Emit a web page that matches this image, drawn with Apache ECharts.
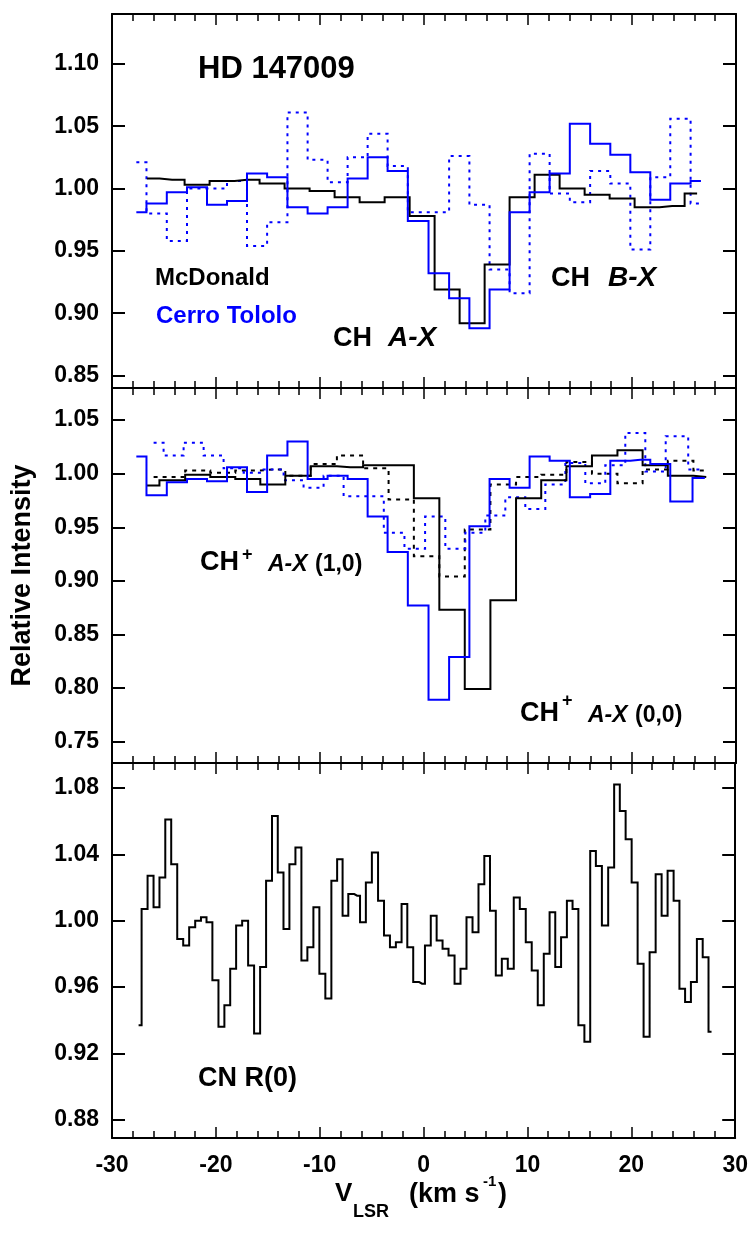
<!DOCTYPE html>
<html><head><meta charset="utf-8">
<script src="https://cdn.jsdelivr.net/npm/echarts@6/dist/echarts.min.js"></script>
<style>html,body{margin:0;padding:0;background:#fff}#c{width:751px;height:1233px}</style>
</head><body><div id="c"></div>
<script>
// ---------- Panel 1: CH ----------
const xChMcD = [-26.63, -24.22, -21.82, -19.41, -17.01, -14.61, -12.20, -9.80, -7.39, -4.99, -2.58, -0.18, 2.22, 4.63, 7.03, 9.43, 11.84, 14.24, 16.65, 19.05, 21.45, 23.86, 26.26];
const yChAXMcD = [1.008, 1.007, 1.003, 1.006, 1.007, 1.004, 1.000, 0.998, 0.993, 0.989, 0.993, 0.978, 0.919, 0.892, 0.939, 0.993, 1.011, 1.000, 0.995, 0.992, 0.985, 0.986, 0.996];
const xChCtio = [-27.66, -25.71, -23.75, -21.83, -19.90, -17.98, -16.06, -14.11, -12.15, -10.23, -8.31, -6.38, -4.46, -2.54, -0.57, 1.44, 3.39, 5.34, 7.27, 9.19, 11.12, 13.04, 15.00, 16.95, 18.88, 20.80, 22.72, 24.64, 26.63];
const yChAXCtio = [0.981, 0.988, 0.997, 1.001, 0.987, 0.990, 1.012, 1.009, 0.985, 0.980, 0.985, 1.008, 1.025, 1.014, 0.974, 0.932, 0.912, 0.888, 0.919, 0.981, 0.997, 1.012, 1.052, 1.036, 1.027, 1.013, 0.991, 1.004, 1.006];
const yChBXCtio = [1.021, 0.980, 0.958, 1.000, 1.000, 1.006, 0.954, 0.973, 1.061, 1.023, 1.005, 1.025, 1.044, 1.018, 0.981, 0.981, 1.026, 0.987, 0.935, 0.916, 1.028, 0.996, 0.989, 1.014, 1.004, 0.951, 1.009, 1.056, 0.988];

// ---------- Panel 2: CH+ ----------
const xChpMcD = [-26.70, -24.18, -21.75, -19.35, -16.94, -14.54, -12.13, -9.65, -7.10, -4.61, -2.20, 0.25, 2.70, 5.14, 7.63, 10.07, 12.47, 14.92, 17.38, 19.82, 22.22, 24.67, 27.14];
const yChp00McD = [0.989, 0.994, 0.999, 0.997, 0.995, 0.990, 0.998, 1.007, 1.006, 1.008, 1.008, 0.977, 0.873, 0.799, 0.882, 0.977, 0.994, 1.007, 1.017, 1.022, 1.008, 0.998, 0.997];
const xChp10McD = [-26.00, -24.18, -21.75, -19.35, -16.94, -14.54, -12.13, -9.65, -7.10, -4.61, -2.20, 0.25, 2.70, 5.14, 7.63, 10.07, 12.47, 14.92, 17.38, 19.82, 22.22, 24.67, 27.14];
const yChp10McD = [0.997, 0.997, 1.003, 1.001, 1.003, 1.004, 0.998, 1.009, 1.017, 1.005, 0.976, 0.923, 0.904, 0.948, 0.990, 0.997, 0.999, 1.011, 1.000, 0.991, 1.004, 1.012, 1.003];
const xChp00Ctio = [-27.66, -25.71, -23.75, -21.83, -19.90, -17.98, -16.06, -14.11, -12.15, -10.23, -8.31, -6.38, -4.46, -2.54, -0.57, 1.44, 3.39, 5.34, 7.27, 9.19, 11.12, 13.04, 15.00, 16.95, 18.88, 20.80, 22.72, 24.64, 27.00];
const yChp00Ctio = [1.016, 0.980, 0.992, 0.995, 0.993, 1.006, 0.983, 1.017, 1.030, 0.995, 0.998, 0.995, 0.960, 0.927, 0.877, 0.789, 0.829, 0.951, 0.995, 0.987, 1.016, 1.012, 0.978, 0.981, 1.012, 1.013, 1.009, 0.974, 0.996];
const xChp10Ctio = [-26.00, -24.08, -22.15, -20.23, -18.31, -16.38, -14.46, -12.54, -10.62, -8.69, -6.77, -4.85, -2.88, -0.88, 1.09, 3.01, 4.93, 6.86, 8.78, 10.70, 12.63, 14.55, 16.47, 18.39, 20.32, 22.24, 24.24, 26.57];
const yChp10Ctio = [1.029, 1.017, 1.029, 1.017, 1.005, 1.001, 1.004, 0.994, 0.987, 0.998, 0.979, 0.979, 0.945, 0.930, 0.960, 0.930, 0.945, 0.961, 0.978, 0.967, 0.990, 1.010, 0.991, 1.008, 1.038, 1.002, 1.035, 1.004];

// ---------- Panel 3: CN R(0) ----------
const xCN = [-27.44, -26.86, -26.29, -25.71, -25.15, -24.59, -24.01, -23.43, -22.86, -22.28, -21.70, -21.17, -20.63, -20.04, -19.46, -18.90, -18.34, -17.76, -17.18, -16.61, -16.03, -15.45, -14.88, -14.31, -13.77, -13.21, -12.63, -12.05, -11.48, -10.90, -10.32, -9.75, -9.17, -8.59, -8.06, -7.54, -6.96, -6.40, -5.84, -5.28, -4.68, -4.09, -3.53, -2.95, -2.39, -1.85, -1.29, -0.71, -0.15, 0.41, 0.97, 1.54, 2.11, 2.69, 3.27, 3.84, 4.42, 5.00, 5.57, 6.12, 6.66, 7.24, 7.82, 8.39, 8.97, 9.55, 10.12, 10.70, 11.28, 11.86, 12.40, 12.95, 13.52, 14.07, 14.61, 15.19, 15.77, 16.31, 16.86, 17.47, 18.07, 18.62, 19.16, 19.74, 20.32, 20.89, 21.47, 22.05, 22.63, 23.20, 23.78, 24.36, 24.90, 25.45, 26.02, 26.60, 27.14, 27.72];
const yCN = [0.937, 1.007, 1.027, 1.008, 1.026, 1.061, 1.034, 0.989, 0.985, 0.996,
  1.000, 1.002, 0.999, 0.964, 0.936, 0.949, 0.971, 0.997, 1.000, 0.973,
  0.932, 0.972, 1.024, 1.063, 1.029, 0.995, 1.034, 1.044, 0.976, 0.984,
  1.008, 0.968, 0.953, 1.024, 1.037, 1.003, 1.016, 1.015, 0.999, 1.023,
  1.041, 1.012, 0.991, 0.984, 0.987, 1.010, 0.984, 0.963, 0.962, 0.985,
  1.003, 0.988, 0.983, 0.979, 0.962, 0.971, 1.002, 0.993, 1.022, 1.039,
  1.006, 0.967, 0.977, 0.971, 1.014, 1.007, 0.987, 0.970, 0.949, 0.980,
  1.005, 0.972, 0.990, 1.012, 1.007, 0.937, 0.927, 1.042, 1.033, 0.997,
  1.032, 1.082, 1.066, 1.049, 1.023, 0.974, 0.930, 0.981, 1.028, 1.003,
  1.030, 1.012, 0.959, 0.951, 0.963, 0.989, 0.978, 0.933];

// ---------- axes ----------
const xRange = [-30, 30];
const xMajor = 10;
const yRanges = [[0.84, 1.14], [0.73, 1.08], [0.869, 1.095]];
const yTicks = [
  [0.85, 0.90, 0.95, 1.00, 1.05, 1.10],
  [0.75, 0.80, 0.85, 0.90, 0.95, 1.00, 1.05],
  [0.88, 0.92, 0.96, 1.00, 1.04, 1.08]
];

const FONT = '"Liberation Sans", Arial, Helvetica, sans-serif';
const BLUE = '#0000ff';

const grids = [
  { left: 112, top: 14, width: 624, height: 374 },
  { left: 112, top: 388, width: 624, height: 375 },
  { left: 112, top: 763, width: 624, height: 375 }
];

const xAxes = [], yAxes = [];
grids.forEach((g, gi) => {
  ['bottom', 'top'].forEach(pos => {
    xAxes.push({
      type: 'value', gridIndex: gi, position: pos, min: xRange[0], max: xRange[1], interval: xMajor,
      axisLine: { show: true, onZero: false, lineStyle: { color: '#000', width: 2 } },
      axisTick: { show: true, inside: true, length: 11, lineStyle: { color: '#000', width: 1.5 } },
      minorTick: { show: true, splitNumber: 5, length: 7, lineStyle: { color: '#000', width: 1.5 } },
      axisLabel: {
        show: gi === 2 && pos === 'bottom', color: '#000', fontFamily: FONT, fontWeight: 'bold',
        fontSize: 23, margin: 16
      },
      splitLine: { show: false }, minorSplitLine: { show: false }
    });
  });
  ['left', 'right'].forEach(pos => {
    yAxes.push({
      type: 'value', gridIndex: gi, position: pos, min: yRanges[gi][0], max: yRanges[gi][1],
      axisLine: { show: true, onZero: false, lineStyle: { color: '#000', width: 2 } },
      axisTick: { show: true, inside: true, length: 13, customValues: yTicks[gi], lineStyle: { color: '#000', width: 2 } },
      axisLabel: {
        show: pos === 'left', customValues: yTicks[gi], formatter: v => Number(v).toFixed(2),
        color: '#000', fontFamily: FONT, fontWeight: 'bold', fontSize: 23, margin: 13
      },
      splitLine: { show: false }
    });
  });
});

function stepLine(xs, ys, gi, color, type, z) {
  return {
    type: 'line', xAxisIndex: gi * 2, yAxisIndex: gi * 2, step: 'middle', symbol: 'none',
    data: xs.map((x, i) => [x, ys[i]]), silent: true, z: z,
    lineStyle: { color: color, width: 2, type: type, cap: 'butt', join: 'miter' }
  };
}

const series = [
  stepLine(xChCtio, yChBXCtio, 0, BLUE, [3, 5], 2),
  stepLine(xChMcD, yChAXMcD, 0, '#000', 'solid', 3),
  stepLine(xChCtio, yChAXCtio, 0, BLUE, 'solid', 4),
  stepLine(xChp10McD, yChp10McD, 1, '#000', [4, 5], 2),
  stepLine(xChp10Ctio, yChp10Ctio, 1, BLUE, [3, 5], 2),
  stepLine(xChpMcD, yChp00McD, 1, '#000', 'solid', 3),
  stepLine(xChp00Ctio, yChp00Ctio, 1, BLUE, 'solid', 4),
  stepLine(xCN, yCN, 2, '#000', 'solid', 3)
];

function txt(x, y, text, size, opts) {
  opts = opts || {};
  return {
    type: 'text', x: x, y: y, rotation: opts.rotation || 0, silent: true, z: 10,
    style: {
      text: text, fill: opts.color || '#000',
      font: (opts.italic ? 'italic ' : '') + 'bold ' + size + 'px ' + FONT,
      align: opts.align || 'left', verticalAlign: 'middle'
    }
  };
}

const graphic = [
  txt(198, 69, 'HD 147009', 31),
  txt(155, 278.6, 'McDonald', 24),
  txt(156, 316.6, 'Cerro Tololo', 24, { color: BLUE }),
  txt(333, 338.5, 'CH', 27),
  txt(388, 338.5, 'A-X', 28, { italic: true }),
  txt(551, 278.5, 'CH', 27),
  txt(608, 278.5, 'B-X', 28, { italic: true }),
  txt(200, 562.2, 'CH', 27),
  txt(242, 555, '+', 18),
  txt(268, 564.6, 'A-X', 23, { italic: true }),
  txt(315, 564.6, '(1,0)', 23),
  txt(520, 713.8, 'CH', 27),
  txt(562, 701, '+', 18),
  txt(588, 715.3, 'A-X', 23, { italic: true }),
  txt(635, 715.3, '(0,0)', 23),
  txt(198, 1078.8, 'CN R(0)', 27),
  txt(22.5, 575.5, 'Relative Intensity', 27, { rotation: Math.PI / 2, align: 'center' }),
  txt(335, 1194.2, 'V', 26),
  txt(353, 1211.7, 'LSR', 18),
  txt(409, 1194.2, '(km s', 27),
  txt(483, 1181.5, '-1', 15),
  txt(498, 1194.2, ')', 27)
];

const chart = echarts.init(document.getElementById('c'), null, { renderer: 'canvas' });
chart.setOption({
  animation: false,
  backgroundColor: '#fff',
  grid: grids,
  xAxis: xAxes,
  yAxis: yAxes,
  series: series,
  graphic: graphic
});
</script></body></html>
